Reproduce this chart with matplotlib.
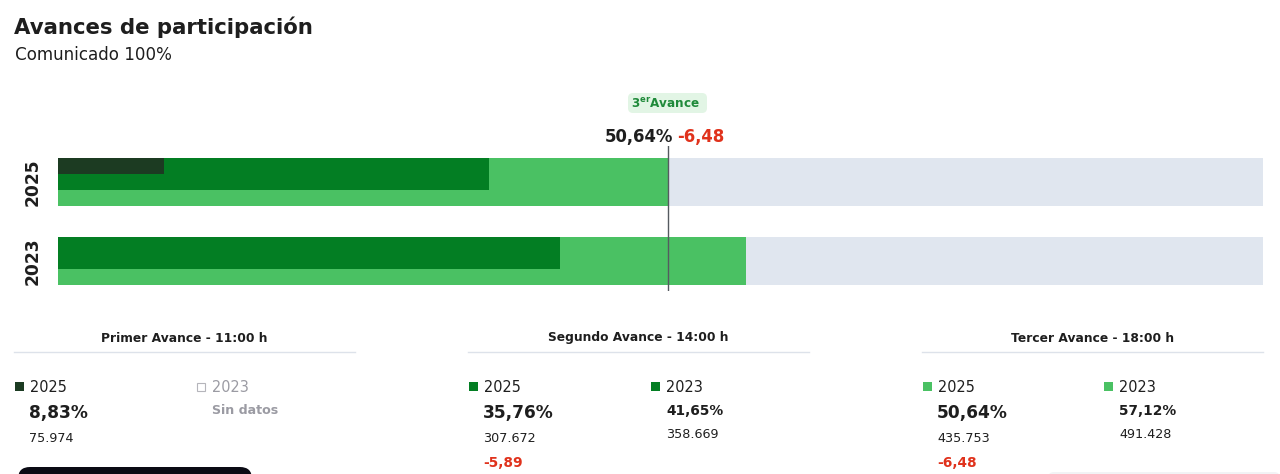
import matplotlib
matplotlib.use("Agg")
import matplotlib.pyplot as plt
from matplotlib.patches import Rectangle, FancyBboxPatch

# ---------------- data ----------------
years = ["2025", "2023"]
avance_titles = ["Primer Avance - 11:00 h", "Segundo Avance - 14:00 h", "Tercer Avance - 18:00 h"]
pct_2025 = [8.83, 35.76, 50.64]
pct_2023 = [None, 41.65, 57.12]
votes_2025 = ["75.974", "307.672", "435.753"]
votes_2023 = [None, "358.669", "491.428"]
diff_2025 = [None, -5.89, -6.48]
title = "Avances de participación"
subtitle = "Comunicado 100%"
current_avance = 3

# ---------------- style ----------------
C_DARK = "#1c3b22"
C_MID = "#037e23"
C_LIGHT = "#4ac163"
C_BG = "#e0e6ef"
C_RED = "#e0321c"
C_TXT = "#1e1e1e"
C_GRAY = "#9b9ba3"
avance_colors = [C_DARK, C_MID, C_LIGHT]
FONT = "DejaVu Sans"
plt.rcParams["font.family"] = [FONT]

W, H = 1280, 474
fig = plt.figure(figsize=(W / 100, H / 100), dpi=100)
fig.patch.set_facecolor("white")

def fmt(v):
    return f"{v:.2f}".replace(".", ",")

def px(p):
    return p * 72 / 100

# overlay axes in pixel coordinates
ov = fig.add_axes([0, 0, 1, 1])
ov.set_xlim(0, W)
ov.set_ylim(H, 0)
ov.axis("off")

# ---------------- bar axes ----------------
x0, x1 = 58, 1262.6
ytop, ybot = 146, 291
ax = fig.add_axes([x0 / W, 1 - ybot / H, (x1 - x0) / W, (ybot - ytop) / H])
ax.set_xlim(0, 100)
unit = 79.0
ax.set_ylim(1 + 30 / unit, -36 / unit)
ax.axis("off")

bar_h = 48 / unit
series = {"2025": pct_2025, "2023": pct_2023}
for i, yr in enumerate(years):
    top = i - bar_h / 2
    ax.barh(top, 100, height=bar_h, align="edge", color=C_BG, zorder=1)
    vals = series[yr]
    for k in [2, 1, 0]:
        v = vals[k]
        if v is None:
            continue
        h = bar_h * (k + 1) / 3
        ax.barh(top, v, height=h, align="edge", color=avance_colors[k], zorder=2 + (2 - k))
    ov.text(33, ytop + 36 + i * unit, yr, rotation=90, ha="center", va="center",
            fontsize=px(17), fontweight="bold", color=C_TXT)

cur = pct_2025[current_avance - 1]
ax.axvline(cur, color="#555a60", lw=1.0, zorder=10)

# ---------------- header texts ----------------
ov.text(14, 34, title, fontsize=px(21.3), fontweight="bold", color=C_TXT, va="baseline")
ov.text(15, 60, subtitle, fontsize=px(16.8), color=C_TXT, va="baseline")

# badge
badge = FancyBboxPatch((628, 93), 79, 20, boxstyle="round,pad=0,rounding_size=5",
                       fc="#e2f5e5", ec="none")
ov.add_patch(badge)
ov.text(666, 103.5, r"3$^{\mathbf{er}}$Avance", ha="center", va="center",
        fontsize=px(12), fontweight="bold", color="#1f8a3a")

line_x = x0 + (x1 - x0) * cur / 100
ov.text(line_x + 5, 137, fmt(cur) + "%", ha="right", va="center",
        fontsize=px(16.5), fontweight="bold", color=C_TXT)
ov.text(line_x + 9, 137, fmt(diff_2025[current_avance - 1]), ha="left", va="center",
        fontsize=px(16.5), fontweight="bold", color=C_RED)

# ---------------- panels ----------------
panel_left = [14, 468, 922]
panel_w = 341
col2_off = [183, 183, 182]
for p in range(3):
    L = panel_left[p]
    ov.text(L + panel_w / 2, 338, avance_titles[p], ha="center", va="center",
            fontsize=px(12.2), fontweight="bold", color=C_TXT)
    ov.plot([L, L + panel_w], [352, 352], color="#dde2ea", lw=1)
    col = avance_colors[p]
    # 2025 column
    ov.add_patch(Rectangle((L + 1, 382), 8.5, 8.5, fc=col, ec="none"))
    ov.text(L + 16, 387, "2025", va="center", ha="left", fontsize=px(14.5), color=C_TXT)
    ov.text(L + 15, 413, fmt(pct_2025[p]) + "%", va="center", ha="left",
            fontsize=px(17), fontweight="bold", color=C_TXT)
    ov.text(L + 15, 438, votes_2025[p], va="center", ha="left", fontsize=px(12.8), color=C_TXT)
    if diff_2025[p] is not None:
        ov.text(L + 15, 463, fmt(diff_2025[p]), va="center", ha="left",
                fontsize=px(13.8), fontweight="bold", color=C_RED)
    # 2023 column
    c2 = L + col2_off[p]
    if pct_2023[p] is None:
        ov.add_patch(Rectangle((c2, 383), 8, 8, fc="white", ec="#b5b5bb", lw=0.8))
        ov.text(c2 + 15, 387, "2023", va="center", ha="left", fontsize=px(14.5), color=C_GRAY)
        ov.text(c2 + 15, 411, "Sin datos", va="center", ha="left",
                fontsize=px(12.6), fontweight="bold", color=C_GRAY)
    else:
        ov.add_patch(Rectangle((c2, 382), 8.5, 8.5, fc=col, ec="none"))
        ov.text(c2 + 15, 387, "2023", va="center", ha="left", fontsize=px(14.5), color=C_TXT)
        ov.text(c2 + 15, 411, fmt(pct_2023[p]) + "%", va="center", ha="left",
                fontsize=px(13.8), fontweight="bold", color=C_TXT)
        ov.text(c2 + 15, 435, votes_2023[p], va="center", ha="left", fontsize=px(12.8), color=C_TXT)

# bottom decorations (cut-off button and card)
ov.add_patch(FancyBboxPatch((18, 467), 234, 30, boxstyle="round,pad=0,rounding_size=12",
                            fc="#0b0b14", ec="none", clip_on=True))
ov.add_patch(FancyBboxPatch((1048, 472), 232, 20, boxstyle="round,pad=0,rounding_size=6",
                            fc="#f2f3f5", ec="none", clip_on=True))

fig.savefig("out.png", dpi=100, facecolor="white")
